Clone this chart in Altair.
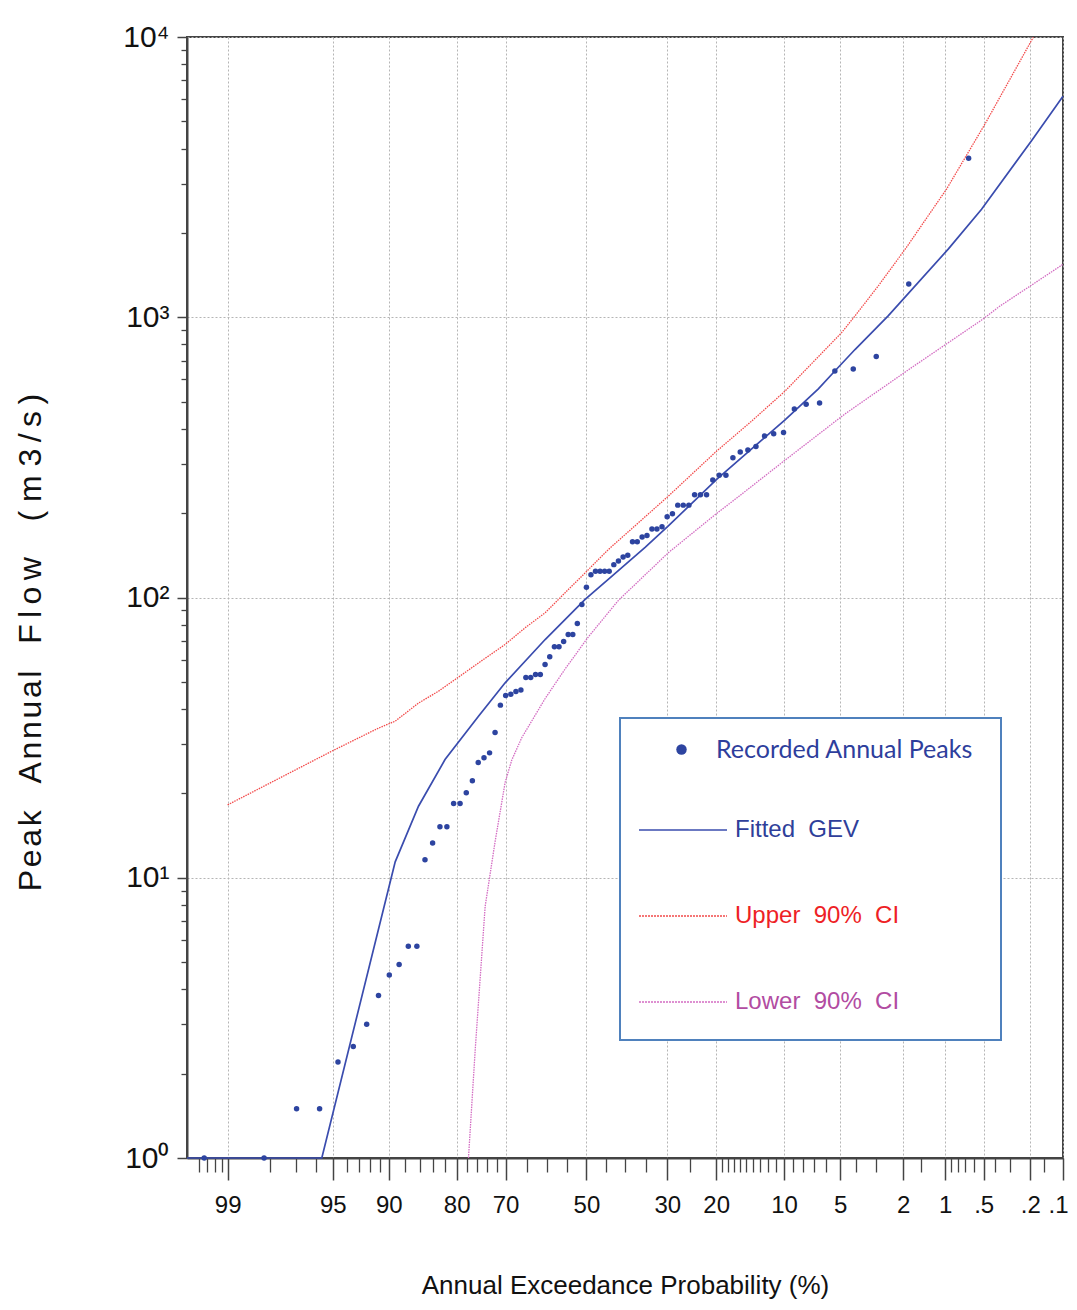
import altair as alt
import pandas as pd
from statistics import NormalDist

ND = NormalDist()

# ---------------- data ----------------
# Recorded annual peaks, largest first, with their plotted exceedance probability (%)
peak_aep = [0.66, 1.83, 3.01, 4.18, 5.36, 6.53, 7.71, 8.88, 10.06, 11.23,
            12.41, 13.58, 14.76, 15.93, 17.11, 18.28, 19.46, 20.63, 21.80, 22.98,
            24.15, 25.33, 26.50, 27.68, 28.85, 30.03, 31.20, 32.38, 33.55, 34.73,
            35.90, 37.08, 38.25, 39.43, 40.60, 41.78, 42.95, 44.13, 45.30, 46.48,
            47.65, 48.83, 50.00, 51.17, 52.35, 53.52, 54.70, 55.87, 57.05, 58.22,
            59.40, 60.57, 61.75, 62.92, 64.10, 65.27, 66.45, 67.62, 68.80, 69.97,
            71.15, 72.32, 73.50, 74.67, 75.85, 77.02, 78.20, 79.37, 80.54, 81.72,
            82.89, 84.07, 85.24, 86.42, 87.59, 88.77, 89.94, 91.12, 92.29, 93.47,
            94.64, 95.82, 96.99, 98.17, 99.34]
peak_flow = [3690, 1315, 724, 654, 643, 494, 489, 471, 388, 384,
             377, 346, 336, 330.4, 315.5, 272.8, 272.8, 262.5, 232.8, 232.8,
             232.8, 213.6, 213.6, 213.6, 199, 194, 178.8, 175.4, 175.4, 166.5,
             164.4, 158, 158, 141.6, 139.4, 135, 131, 124, 124, 124,
             124, 120.5, 108.8, 94.4, 80.7, 73.8, 73.8, 69.6, 66.7, 66.7,
             61.5, 57.7, 53.1, 53.1, 51.8, 51.8, 46.8, 46.2, 45.2, 44.7,
             41.3, 33.0, 27.9, 26.8, 25.8, 22.2, 20.1, 18.4, 18.4, 15.2,
             15.2, 13.3, 11.6, 5.7, 5.7, 4.9, 4.5, 3.8, 3.0, 2.5,
             2.2, 1.5, 1.5, 1.0, 1.0]

# Fitted GEV curve
gev_aep = [99.52, 95.69, 89.25, 86.19, 82.04, 75.80, 70.09, 60.55, 50.34, 43.49,
           35.18, 29.76, 19.92, 9.89, 6.63, 5.36, 4.08, 2.52, 0.949, 0.52, 0.195, 0.1]
gev_flow = [1.0, 1.0, 11.4, 18.0, 26.4, 37.7, 49.6, 70.8, 98.4, 119,
            151, 180, 264, 430, 555, 643, 767, 1011, 1750, 2430, 4266, 6140]

# Upper 90% confidence limit
upper_aep = [99.0, 95.06, 91.12, 89.25, 86.19, 83.13, 80.26, 75.80, 70.09, 65.44,
             60.55, 55.49, 50.34, 44.33, 29.76, 19.92, 14.20, 9.89, 4.90, 4.08,
             2.92, 1.90, 0.977, 0.488, 0.188]
upper_flow = [18.2, 28.3, 34.2, 36.2, 42, 46.3, 51, 58.4, 68, 78,
              88.2, 104, 122.4, 148.4, 230, 333, 426, 545, 881, 1011,
              1294, 1774, 2866, 4890, 9980]

# Lower 90% confidence limit
lower_aep = [77.78, 76.46, 74.43, 72.30, 70.09, 68.58, 66.25, 60.55, 55.49, 49.48,
             41.78, 29.76, 19.92, 16.76, 9.89, 4.68, 1.75, 0.52, 0.367, 0.1]
lower_flow = [1.0, 2.43, 7.9, 13.5, 21.9, 26.3, 31.6, 43.6, 55.6, 72.4,
              97.7, 144.5, 199.5, 224, 309, 452, 661, 977, 1096, 1545]

# axis ticks
major_aep = [99, 95, 90, 80, 70, 50, 30, 20, 10, 5, 2, 1, 0.5, 0.2, 0.1]
minor_aep = [99.4, 99.3, 99.2, 99.1, 98, 97, 96, 94, 93, 92, 91, 88, 86, 84, 82,
             78, 76, 74, 72, 65, 60, 55, 45, 40, 35, 25, 19, 18, 17, 16, 15, 14,
             13, 12, 11, 9, 8, 7, 6, 4, 3, 1.5, 0.9, 0.8, 0.7, 0.6, 0.4, 0.3, 0.15]
y_major = [1, 10, 100, 1000, 10000]
y_minor = [2, 3, 4, 5, 6, 7, 8, 9, 20, 30, 40, 50, 60, 70, 80, 90,
           200, 300, 400, 500, 600, 700, 800, 900,
           2000, 3000, 4000, 5000, 6000, 7000, 8000, 9000]

AEP_LEFT, AEP_RIGHT = 99.52, 0.1

series_names = ["Recorded Annual Peaks", "Fitted\u00a0\u00a0GEV",
                "Upper\u00a0\u00a090%\u00a0\u00a0CI", "Lower\u00a0\u00a090%\u00a0\u00a0CI"]

# ---------------- helpers ----------------
def zq(p):
    return ND.inv_cdf(1 - p / 100.0)

SANS = "'Liberation Sans', Arial, sans-serif"
AXC = "#444444"

xscale = alt.Scale(domain=[zq(AEP_LEFT), zq(AEP_RIGHT)], nice=False, zero=False)
yscale = alt.Scale(type="log", domain=[1, 10000], nice=False)

x_label_expr = ("(100*(1-cumulativeNormal(datum.value)) >= 0.999) ? "
                "format(100*(1-cumulativeNormal(datum.value)), '.0f') : "
                "replace(format(100*(1-cumulativeNormal(datum.value)), '.1f'), '0.', '.')")

edge_test = "datum.value > %.5f" % zq(0.15)

x_major = alt.Axis(orient="bottom", values=[zq(p) for p in major_aep], labelExpr=x_label_expr,
                   tickSize=22, tickColor=AXC, tickWidth=1.5,
                   grid=True, gridColor="#b5b5b5", gridDash=[2, 2], gridWidth=1,
                   domain=True, domainColor=AXC, domainWidth=2,
                   labelFont=SANS, labelFontSize=24, labelColor="#111111",
                   labelPadding=13, labelFlush=False, labelOverlap=False,
                   labelAlign={"condition": {"test": edge_test, "value": "right"},
                               "value": "center"},
                   labelOffset={"condition": {"test": edge_test, "value": 5},
                                "value": 0},
                   title="Annual Exceedance Probability (%)", titleFont=SANS,
                   titleFontSize=26, titleFontWeight="normal", titleColor="#111111",
                   titleY=127, titleBaseline="middle")
x_minor = alt.Axis(orient="bottom", values=[zq(p) for p in minor_aep], labels=False,
                   tickSize=14, tickColor=AXC, tickWidth=1.3, grid=False,
                   domain=False, title=None)

y_title = ("P\u200ae\u200aa\u200ak\u00a0\u00a0\u00a0A\u200an\u200an\u200au\u200aa\u200al"
           "\u00a0\u00a0\u00a0F\u2009l\u2009o\u2009w\u00a0\u00a0\u00a0\u00a0"
           "(\u00a0m\u00a03\u2009/\u2009s\u2009)")
y_major_axis = alt.Axis(orient="left", values=y_major,
                        labelExpr="'10' + ['\u2070','\u00b9','\u00b2','\u00b3','\u2074'][round(log(datum.value)/LN10)]",
                        tickSize=10, tickColor=AXC, tickWidth=1.5,
                        grid=True, gridColor="#b5b5b5", gridDash=[2, 2], gridWidth=1.2,
                        domain=True, domainColor=AXC, domainWidth=2,
                        labelFont=SANS, labelFontSize=30, labelColor="#111111",
                        labelPadding=8, labelBaseline="middle", labelOverlap=False,
                        labelFlush=False,
                        title=y_title, titleFont=SANS, titleFontSize=32,
                        titleFontWeight="normal", titleColor="#111111",
                        titleAngle=270, titleX=-157, titleY=605,
                        titleAlign="center", titleBaseline="middle")
y_minor_axis = alt.Axis(orient="left", values=y_minor, labels=False, tickSize=6,
                        tickColor=AXC, tickWidth=1.3, grid=False, domain=False,
                        title=None)

ZCALC = "quantileNormal(1 - datum.aep/100)"

def frame(aep, flow, name):
    return pd.DataFrame({"aep": aep, "flow": flow, "series": name})

# legend geometry (relative to plot origin)
def line_legend(y, label_color, dash=None, width=1.5):
    kw = dict(orient="none", legendX=451, legendY=y, title=None, padding=0,
              symbolType="stroke", symbolSize=7744, symbolStrokeWidth=width,
              labelFont=SANS, labelFontSize=24, labelColor=label_color,
              labelOffset=7, labelLimit=400)
    if dash:
        kw["symbolDash"] = dash
    return alt.Legend(**kw)

lower = alt.Chart(frame(lower_aep, lower_flow, series_names[3])).mark_line(
    strokeWidth=1.3, strokeDash=[1.5, 1]).transform_calculate(z=ZCALC).encode(
    x=alt.X("z:Q", scale=xscale, axis=None),
    y=alt.Y("flow:Q", scale=yscale, axis=None),
    color=alt.Color("series:N", scale=alt.Scale(range=["#d36cc2"]),
                    legend=line_legend(920, "#b24ca2", dash=[2, 1], width=1.3)))

upper = alt.Chart(frame(upper_aep, upper_flow, series_names[2])).mark_line(
    strokeWidth=1.3, strokeDash=[1.5, 1]).transform_calculate(z=ZCALC).encode(
    x=alt.X("z:Q", scale=xscale, axis=x_minor),
    y=alt.Y("flow:Q", scale=yscale, axis=y_minor_axis),
    color=alt.Color("series:N", scale=alt.Scale(range=["#f24a4a"]),
                    legend=line_legend(834, "#ee1f26", dash=[2, 1], width=1.3)))

gev = alt.Chart(frame(gev_aep, gev_flow, series_names[1])).mark_line(
    strokeWidth=1.7).transform_calculate(z=ZCALC).encode(
    x=alt.X("z:Q", scale=xscale, axis=x_major),
    y=alt.Y("flow:Q", scale=yscale, axis=y_major_axis),
    color=alt.Color("series:N", scale=alt.Scale(range=["#3a4cae"]),
                    legend=line_legend(748, "#2f3f9a", width=1.7)))

peaks = alt.Chart(frame(peak_aep, peak_flow, series_names[0])).mark_circle(
    size=30, opacity=1).transform_calculate(z=ZCALC).encode(
    x=alt.X("z:Q", scale=xscale, axis=None),
    y=alt.Y("flow:Q", scale=yscale, axis=None),
    color=alt.Color("series:N", scale=alt.Scale(range=["#2d44a0"]),
                    legend=alt.Legend(orient="none", legendX=482, legendY=700,
                                      title=None, padding=0, symbolType="circle",
                                      symbolSize=110, labelFont="Lato",
                                      labelFontSize=25, labelColor="#2e3e9c",
                                      labelOffset=22, labelLimit=400)))

box = alt.Chart(alt.Data(values=[{"k": 1}])).mark_rect(
    fill="white", stroke="#4f81bd", strokeWidth=2).encode(
    x=alt.value(433), x2=alt.value(814), y=alt.value(681), y2=alt.value(1003))

chart = alt.layer(lower, upper, gev, peaks, box).resolve_scale(
    color="independent").resolve_axis(x="independent", y="independent").properties(
    width=876, height=1121,
    autosize=alt.AutoSizeParams(type="none"),
    padding={"left": 179, "top": 29, "right": 6, "bottom": 144},
    background="white",
).configure_view(stroke=AXC, strokeWidth=2)

chart.save("out.html", embed_options={"renderer": "svg", "actions": False})
